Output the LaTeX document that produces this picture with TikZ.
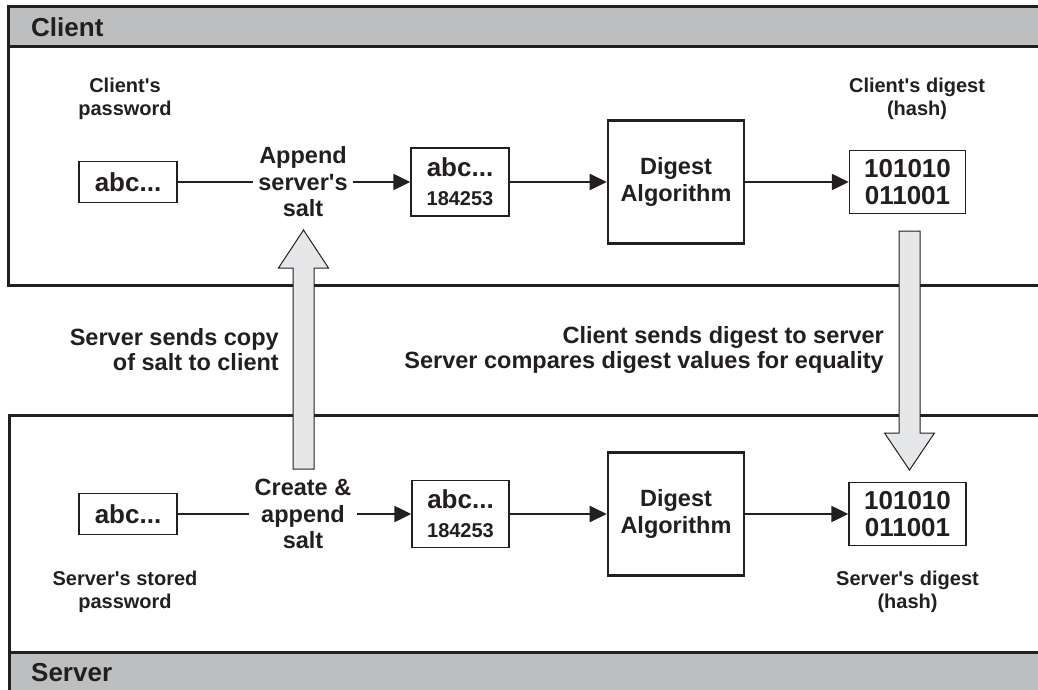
\documentclass[tikz,border=0pt]{standalone}
\usepackage{fontspec}
\setmainfont{Liberation Sans}
\usetikzlibrary{arrows.meta,calc}

\definecolor{ink}{HTML}{231F20}
\definecolor{band}{HTML}{BCBEC0}
\definecolor{pipe}{HTML}{E6E7E8}

% font sizes (1 unit = 1pt)
\newcommand\szhead{\fontsize{26}{28}\selectfont}
\newcommand\szbig{\fontsize{26}{27}\selectfont}
\newcommand\szmid{\fontsize{23.5}{26.5}\selectfont}
\newcommand\szsmall{\fontsize{20}{23}\selectfont}
% straight apostrophe
\newcommand\apos{\textquotesingle}

\tikzset{
  every node/.style={text=ink, font=\bfseries},
  panel/.style={draw=ink, line width=3pt},
  databox/.style={draw=ink, line width=1.4pt, fill=white, inner sep=0pt, align=center},
  algbox/.style={draw=ink, line width=2.6pt, fill=white, inner sep=0pt, align=center,
                 minimum width=136pt, minimum height=123pt, font=\bfseries\szmid},
  caption/.style={inner sep=0pt, align=center, font=\bfseries\szsmall},
  stage/.style={inner xsep=5pt, inner ysep=2pt, align=center, font=\bfseries\szmid},
  note/.style={inner sep=0pt, align=right, anchor=east,
               font=\bfseries\fontsize{23.5}{25}\selectfont},
  flow/.style={draw=ink, line width=2.3pt},
  flowto/.style={flow, -{Triangle[length=17pt,width=16pt]}},
  fatpipe/.style={draw=ink, line width=1pt, fill=pipe, line join=miter},
}

\begin{document}
\begin{tikzpicture}[x=1pt, y=-1pt]
  \useasboundingbox (0,0) rectangle (1038,690);
  \clip (0,0) rectangle (1038,690);

  % client panel with its title band
  \fill[band] (8,7) rectangle (1050,47);
  \draw[panel] (8,7) rectangle (1050,285);
  \draw[panel] (8,47) -- (1050,47);
  \node[inner sep=0pt, anchor=west, font=\bfseries\szhead] (clienttitle) at (31,27) {Client};

  % server panel with its title band
  \fill[band] (9,652) rectangle (1050,700);
  \draw[panel] (9,415) rectangle (1050,700);
  \draw[panel] (9,652) -- (1050,652);
  \node[inner sep=0pt, anchor=west, font=\bfseries\szhead] (servertitle) at (31,673) {Server};

  % client row
  \node[databox, minimum width=98pt, minimum height=41pt, font=\bfseries\szbig] (cpw) at (128,182) {abc...};
  \node[stage] (cappend) at (303,182) {Append\\server\apos s\\salt};
  \node[databox, minimum width=98pt, minimum height=68pt, font=\bfseries\fontsize{26}{29}\selectfont]
       (csalted) at (460,182) {abc...\\{\fontsize{20}{29}\selectfont 184253}};
  \node[algbox] (calg) at (676,182) {Digest\\Algorithm};
  \node[databox, minimum width=116pt, minimum height=63pt, font=\bfseries\szbig] (chash) at (907.5,182) {101010\\011001};
  \node[caption] (cpwcap) at (125,98.5) {Client\apos s\\password};
  \node[caption] (chashcap) at (917,98.5) {Client\apos s digest\\(hash)};

  \draw[flow] (cpw) -- (cappend);
  \draw[flowto] (cappend) -- (csalted);
  \draw[flowto] (csalted) -- (calg);
  \draw[flowto] (calg) -- (chash);

  % server row
  \node[databox, minimum width=98pt, minimum height=41pt, font=\bfseries\szbig] (spw) at (128,514) {abc...};
  \node[stage] (screate) at (303,514) {Create \&\\append\\salt};
  \node[databox, minimum width=97pt, minimum height=67pt, font=\bfseries\fontsize{26}{29}\selectfont]
       (ssalted) at (460.5,514) {abc...\\{\fontsize{20}{29}\selectfont 184253}};
  \node[algbox] (salg) at (676,514) {Digest\\Algorithm};
  \node[databox, minimum width=117pt, minimum height=63pt, font=\bfseries\szbig] (shash) at (907.5,514) {101010\\011001};
  \node[caption] (spwcap) at (125,591.5) {Server\apos s stored\\password};
  \node[caption] (shashcap) at (907.5,591.5) {Server\apos s digest\\(hash)};

  \draw[flow] (spw) -- (screate);
  \draw[flowto] (screate) -- (ssalted);
  \draw[flowto] (ssalted) -- (salg);
  \draw[flowto] (salg) -- (shash);

  % exchange between the two sides
  \coordinate (saltfoot) at (303.5,469);
  \coordinate (salttip) at (303.5,230);
  \draw[fatpipe] ($(saltfoot)+(-10.5,0)$) -- ($(salttip)+(-10.5,38)$) -- ($(salttip)+(-25,38)$)
     -- (salttip) -- ($(salttip)+(25,38)$) -- ($(salttip)+(10.5,38)$) -- ($(saltfoot)+(10.5,0)$) -- cycle;

  \coordinate (digestfoot) at (909.5,231);
  \coordinate (digesttip) at (909.5,470);
  \draw[fatpipe] ($(digestfoot)+(-10.5,0)$) -- ($(digesttip)+(-10.5,-37)$) -- ($(digesttip)+(-25,-37)$)
     -- (digesttip) -- ($(digesttip)+(25,-37)$) -- ($(digesttip)+(10.5,-37)$) -- ($(digestfoot)+(10.5,0)$) -- cycle;

  \node[note] (saltnote) at (279,349.5) {Server sends copy\\of salt to client};
  \node[note] (digestnote) at (884,349.5) {Client sends digest to server\\Server compares digest values for equality};
\end{tikzpicture}
\end{document}
